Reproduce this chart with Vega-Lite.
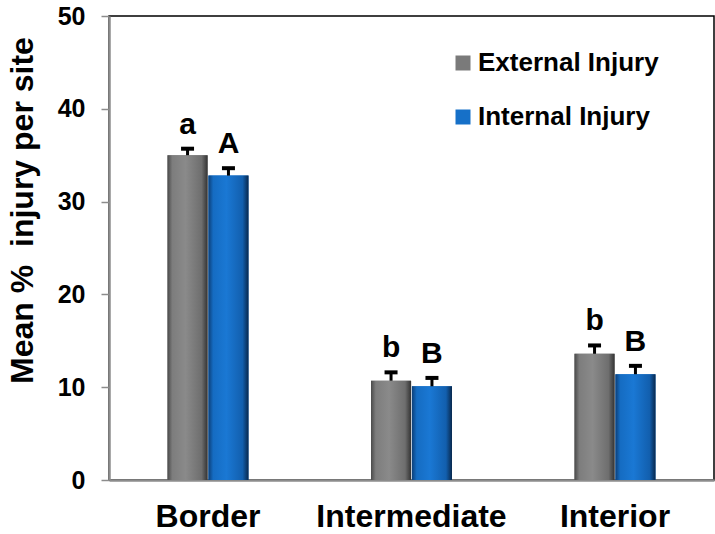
{
  "$schema": "https://vega.github.io/schema/vega-lite/v6.json",
  "width": 605,
  "height": 464,
  "autosize": {"type": "none"},
  "padding": {"left": 109, "top": 16, "right": 1, "bottom": 54},
  "background": "white",
  "config": {
    "font": "Liberation Sans",
    "view": {"stroke": "black", "strokeWidth": 1.5},
    "axis": {"grid": false, "domainColor": "#8c8c8c", "domainWidth": 2.5}
  },
  "data": {
    "values": [
      {"site": "Border", "series": "External Injury", "mean": 35.0, "upper": 35.7, "letter": "a"},
      {"site": "Border", "series": "Internal Injury", "mean": 32.8, "upper": 33.6, "letter": "A"},
      {"site": "Intermediate", "series": "External Injury", "mean": 10.7, "upper": 11.6, "letter": "b"},
      {"site": "Intermediate", "series": "Internal Injury", "mean": 10.1, "upper": 11.0, "letter": "B"},
      {"site": "Interior", "series": "External Injury", "mean": 13.6, "upper": 14.5, "letter": "b"},
      {"site": "Interior", "series": "Internal Injury", "mean": 11.4, "upper": 12.3, "letter": "B"}
    ]
  },
  "encoding": {
    "x": {
      "field": "site",
      "type": "nominal",
      "sort": ["Border", "Intermediate", "Interior"],
      "scale": {"paddingInner": 0.602, "paddingOuter": 0.2875},
      "axis": {
        "title": null,
        "labelAngle": 0,
        "ticks": false,
        "labelFontSize": 32,
        "labelFontWeight": "bold",
        "labelColor": "black",
        "labelBaseline": "alphabetic",
        "labelPadding": 46,
        "labelLimit": 0
      }
    },
    "xOffset": {
      "field": "series",
      "type": "nominal",
      "sort": ["External Injury", "Internal Injury"],
      "scale": {"paddingInner": 0.02}
    }
  },
  "layer": [
    {
      "mark": {"type": "bar"},
      "encoding": {
        "y": {
          "field": "mean",
          "type": "quantitative",
          "scale": {"domain": [0, 50]},
          "axis": {
            "values": [0, 10, 20, 30, 40, 50],
            "tickSize": 8,
            "tickColor": "#8c8c8c",
            "tickWidth": 1.5,
            "labelFontSize": 25,
            "labelFontWeight": "bold",
            "labelColor": "black",
            "labelPadding": 16,
            "title": "Mean % \u00a0injury per site",
            "titleFontSize": 32,
            "titleFontWeight": "bold",
            "titleColor": "black",
            "titleAngle": -90,
            "titleAlign": "center",
            "titleBaseline": "alphabetic",
            "titleLimit": 0,
            "titleX": -77,
            "titleY": 194
          }
        },
        "color": {
          "field": "series",
          "type": "nominal",
          "scale": {"domain": ["External Injury", "Internal Injury"], "range": ["#7a7a7a", "#1670c8"]},
          "legend": {
            "title": null,
            "orient": "none",
            "legendX": 341,
            "legendY": 34,
            "symbolType": "square",
            "symbolSize": 225,
            "symbolStrokeWidth": 0,
            "labelFontSize": 26,
            "labelFontWeight": "bold",
            "labelColor": "black",
            "labelOffset": 2,
            "labelLimit": 0,
            "rowPadding": 28
          }
        }
      }
    },
    {
      "mark": {"type": "bar"},
      "encoding": {
        "y": {"field": "mean", "type": "quantitative"},
        "fill": {
          "condition": {
            "test": "datum.series === 'External Injury'",
            "value": {
              "gradient": "linear", "x1": 0, "x2": 1, "y1": 0, "y2": 0,
              "stops": [
                {"offset": 0, "color": "#4a4a4a"},
                {"offset": 0.12, "color": "#7d7d7d"},
                {"offset": 0.45, "color": "#8a8a8a"},
                {"offset": 0.85, "color": "#6e6e6e"},
                {"offset": 1, "color": "#333333"}
              ]
            }
          },
          "value": {
            "gradient": "linear", "x1": 0, "x2": 1, "y1": 0, "y2": 0,
            "stops": [
              {"offset": 0, "color": "#0c3f78"},
              {"offset": 0.12, "color": "#156cc2"},
              {"offset": 0.45, "color": "#1a78d4"},
              {"offset": 0.85, "color": "#125fae"},
              {"offset": 1, "color": "#08284d"}
            ]
          }
        }
      }
    },
    {
      "mark": {"type": "rule", "strokeWidth": 3, "color": "black"},
      "encoding": {
        "y": {"field": "mean", "type": "quantitative"},
        "y2": {"field": "upper"}
      }
    },
    {
      "mark": {"type": "tick", "thickness": 4, "size": 13, "color": "black", "opacity": 1},
      "encoding": {
        "y": {"field": "upper", "type": "quantitative"}
      }
    },
    {
      "mark": {"type": "text", "fontSize": 30, "fontWeight": "bold", "baseline": "alphabetic", "dy": -15, "color": "black"},
      "encoding": {
        "y": {"field": "upper", "type": "quantitative"},
        "text": {"field": "letter"}
      }
    }
  ]
}
